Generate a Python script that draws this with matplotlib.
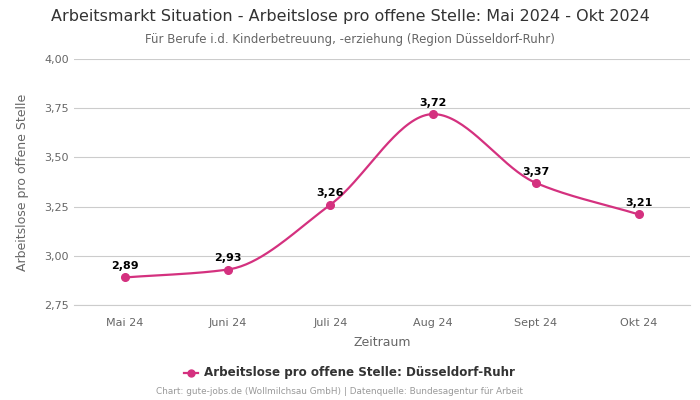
import numpy as np
import matplotlib.pyplot as plt

months = ['Mai 24', 'Juni 24', 'Juli 24', 'Aug 24', 'Sept 24', 'Okt 24']
values = [2.89, 2.93, 3.26, 3.72, 3.37, 3.21]
y_ticks = [2.75, 3.00, 3.25, 3.50, 3.75, 4.00]

color = '#d4317f'


def monotone_curve(x, y, n=40):
    # Fritsch-Carlson monotone cubic interpolation
    x = np.asarray(x, float)
    y = np.asarray(y, float)
    h = np.diff(x)
    d = np.diff(y) / h
    m = np.zeros_like(y)
    m[0], m[-1] = d[0], d[-1]
    for k in range(1, len(y) - 1):
        if d[k - 1] * d[k] <= 0:
            m[k] = 0
        else:
            w1 = 2 * h[k] + h[k - 1]
            w2 = h[k] + 2 * h[k - 1]
            m[k] = (w1 + w2) / (w1 / d[k - 1] + w2 / d[k])
    xs, ys = [], []
    for k in range(len(x) - 1):
        t = np.linspace(0, 1, n)
        h00 = 2 * t**3 - 3 * t**2 + 1
        h10 = t**3 - 2 * t**2 + t
        h01 = -2 * t**3 + 3 * t**2
        h11 = t**3 - t**2
        xs.append(x[k] + t * h[k])
        ys.append(h00 * y[k] + h10 * h[k] * m[k] + h01 * y[k + 1] + h11 * h[k] * m[k + 1])
    return np.concatenate(xs), np.concatenate(ys)


fig = plt.figure(figsize=(7, 4), dpi=100)
ax = fig.add_axes([0.105, 0.2375, 0.881, 0.615])

xi = np.arange(len(months))
cx, cy = monotone_curve(xi, values)
ax.plot(cx, cy, color=color, lw=1.6, zorder=3)
ax.plot(xi, values, 'o', color=color, ms=5.5, zorder=4)

for x, v in zip(xi, values):
    ax.annotate(f'{v:.2f}'.replace('.', ','), (x, v), xytext=(0, 4.5), textcoords='offset points',
                ha='center', va='bottom', fontsize=8, fontweight='bold', color='#000000')

ax.set_xlim(-0.5, len(months) - 0.5)
ax.set_ylim(2.75, 4.00)
ax.set_yticks(y_ticks)
ax.set_yticklabels([f'{t:.2f}'.replace('.', ',') for t in y_ticks])
ax.set_xticks(xi)
ax.set_xticklabels(months)
ax.tick_params(axis='both', length=0, labelsize=8, colors='#666666')
ax.tick_params(axis='x', pad=9)
ax.grid(axis='y', color='#cccccc', lw=0.8)
ax.set_axisbelow(True)
for s in ['top', 'right', 'left']:
    ax.spines[s].set_visible(False)
ax.spines['bottom'].set_color('#cccccc')

ax.set_xlabel('Zeitraum', fontsize=9, color='#666666', labelpad=6)
ax.set_ylabel('Arbeitslose pro offene Stelle', fontsize=9, color='#666666', labelpad=11)

fig.text(0.5, 0.958, 'Arbeitsmarkt Situation - Arbeitslose pro offene Stelle: Mai 2024 - Okt 2024',
         ha='center', va='center', fontsize=11.5, color='#333333')
fig.text(0.5, 0.902, 'Für Berufe i.d. Kinderbetreuung, -erziehung (Region Düsseldorf-Ruhr)',
         ha='center', va='center', fontsize=8.5, color='#666666')

# legend
fig.lines.append(plt.Line2D([0.263, 0.283], [0.068, 0.068], transform=fig.transFigure,
                            color=color, lw=1.6))
fig.lines.append(plt.Line2D([0.273], [0.068], transform=fig.transFigure,
                            color=color, marker='o', ms=5))
fig.text(0.292, 0.068, 'Arbeitslose pro offene Stelle: Düsseldorf-Ruhr', ha='left', va='center',
         fontsize=8.6, fontweight='bold', color='#333333')
fig.text(0.485, 0.02, 'Chart: gute-jobs.de (Wollmilchsau GmbH) | Datenquelle: Bundesagentur für Arbeit',
         ha='center', va='center', fontsize=6.4, color='#999999')

fig.savefig('out.png', dpi=100)
